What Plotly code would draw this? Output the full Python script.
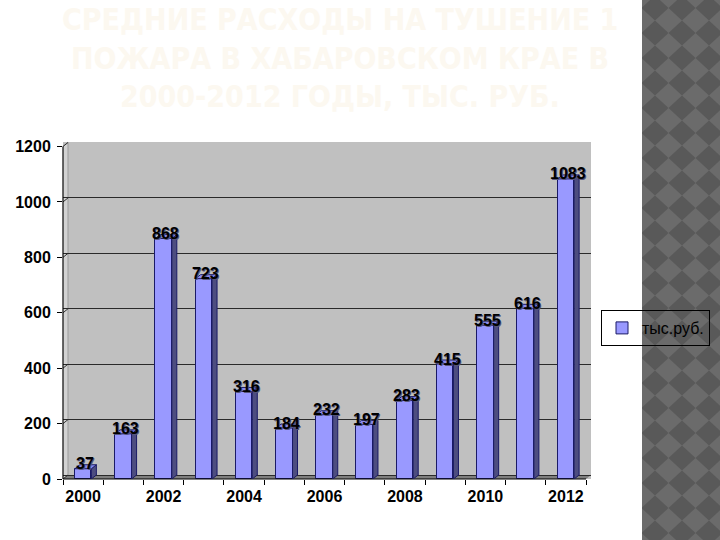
import plotly.graph_objects as go

# ---- data ----
years = [2000, 2001, 2002, 2003, 2004, 2005, 2006, 2007, 2008, 2009, 2010, 2011, 2012]
values = [37, 163, 868, 723, 316, 184, 232, 197, 283, 415, 555, 616, 1083]
series_name = "тыс.руб."
x_tick_vals = [2000, 2002, 2004, 2006, 2008, 2010, 2012]
x_tick_text = ["2000", "2002", "2004", "2006", "2008", "2010", "2012"]
y_tick_vals = [0, 200, 400, 600, 800, 1000, 1200]
title_lines = ["СРЕДНИЕ РАСХОДЫ НА ТУШЕНИЕ 1",
               "ПОЖАРА В ХАБАРОВСКОМ КРАЕ В",
               "2000-2012 ГОДЫ, ТЫС. РУБ."]

# ---- geometry (pixels of the 720x540 page) ----
W, H = 720, 540
L, R, T, B = 63, 591, 142, 479
PW, PH = R - L, B - T
DEPTH_X, DEPTH_Y = 5, 4           # 3D depth offset in px
cat_px = (PW - DEPTH_X) / len(years)
x_lo = years[0] - 0.5
x_hi = years[-1] + 0.5 + DEPTH_X / cat_px
px_per_val = (B - 146.5) / 1200.0
y_top = PH / px_per_val
dxu = DEPTH_X / cat_px
dyu = DEPTH_Y / px_per_val
bar_w = 0.41


def xp(px):
    return (px - L) / PW


def yp(py):
    return (B - py) / PH


FONT = "Liberation Sans, Arial, sans-serif"

fig = go.Figure()
fig.add_trace(go.Bar(
    x=years, y=values, width=bar_w, name=series_name,
    marker=dict(color="#9999FF", line=dict(color="#1a1a66", width=1)),
    hoverinfo="x+y",
))
# invisible trace to make the back-wall grid axis render
fig.add_trace(go.Scatter(x=[years[0]], y=[0], yaxis="y2", mode="markers",
                         marker=dict(opacity=0), showlegend=False, hoverinfo="skip"))

shapes = []

# checkered decorative strip on the right
strip_x0 = 642
shapes.append(dict(type="rect", xref="paper", yref="paper",
                   x0=xp(strip_x0), x1=xp(W + 5), y0=yp(H + 5), y1=yp(-5),
                   fillcolor="#6b6b6b", line=dict(width=0), layer="below"))


def clip_left(poly, xmin):
    out = []
    n = len(poly)
    for i in range(n):
        a, b = poly[i], poly[(i + 1) % n]
        ain, bin_ = a[0] >= xmin, b[0] >= xmin
        if ain:
            out.append(a)
        if ain != bin_:
            t = (xmin - a[0]) / (b[0] - a[0])
            out.append((xmin, a[1] + t * (b[1] - a[1])))
    return out


DW, DH = 27, 25
paths = []
for j in range(-1, 24):
    for i in range(-1, 5):
        cx = 655 + i * DW
        cy = 8 + j * DH
        poly = [(cx, cy - DH / 2), (cx + DW / 2, cy), (cx, cy + DH / 2), (cx - DW / 2, cy)]
        poly = clip_left(poly, strip_x0)
        if len(poly) < 3:
            continue
        p = "M " + " L ".join(f"{xp(a):.5f},{yp(b):.5f}" for a, b in poly) + " Z"
        paths.append(p)
shapes.append(dict(type="path", xref="paper", yref="paper", path=" ".join(paths),
                   fillcolor="#595959", line=dict(width=0), layer="below"))

# left wall
shapes.append(dict(type="path", xref="paper", yref="paper",
                   path=f"M {xp(L)},{yp(146.5)} L {xp(L+DEPTH_X)},{yp(T)} L {xp(L+DEPTH_X)},{yp(B-DEPTH_Y)} L {xp(L)},{yp(B)} Z",
                   fillcolor="#d2d2d2", line=dict(color="#9a9a9a", width=1), layer="between"))
# floor
shapes.append(dict(type="path", xref="paper", yref="paper",
                   path=f"M {xp(L)},{yp(B)} L {xp(R-DEPTH_X)},{yp(B)} L {xp(R)},{yp(B-DEPTH_Y)} L {xp(L+DEPTH_X)},{yp(B-DEPTH_Y)} Z",
                   fillcolor="#7f7f7f", line=dict(width=0), layer="between"))
# floor front edge
shapes.append(dict(type="line", xref="paper", yref="paper",
                   x0=xp(L), x1=xp(R - DEPTH_X), y0=0, y1=0,
                   line=dict(color="black", width=1), layer="above"))
# grid diagonals on the left wall
for v in y_tick_vals:
    shapes.append(dict(type="line", xref="paper", yref="y",
                       x0=0, x1=xp(L + DEPTH_X), y0=v, y1=v + dyu,
                       line=dict(color="#333333", width=1), layer="between"))
# y axis line
shapes.append(dict(type="line", xref="paper", yref="y", x0=0, x1=0,
                   y0=y_tick_vals[0], y1=y_tick_vals[-1],
                   line=dict(color="black", width=1), layer="above"))

# 3D side and top faces of bars
for yr, v in zip(years, values):
    x0 = yr + bar_w / 2
    x1 = x0 + dxu
    shapes.append(dict(type="path", xref="x", yref="y",
                       path=f"M {x0},0 L {x1},{dyu} L {x1},{v+dyu} L {x0},{v} Z",
                       fillcolor="#4d4d80", line=dict(color="#1a1a66", width=1), layer="above"))
    xl = yr - bar_w / 2
    shapes.append(dict(type="path", xref="x", yref="y",
                       path=f"M {xl},{v} L {x0},{v} L {x1},{v+dyu} L {xl+dxu},{v+dyu} Z",
                       fillcolor="#8c8cee", line=dict(color="#1a1a66", width=1), layer="above"))

annotations = []
for yr, v in zip(years, values):
    annotations.append(dict(x=yr, y=v, xref="x", yref="y", text=str(v), showarrow=False,
                            xshift=2, yshift=5, yanchor="middle", xanchor="center",
                            font=dict(family=FONT, size=16, color="black", weight="bold",
                                      shadow="1px 1px 0px #55557a")))

title_y = [20, 58, 97]
for line, py in zip(title_lines, title_y):
    annotations.append(dict(x=xp(340), y=yp(py), xref="paper", yref="paper", text=line,
                            showarrow=False, xanchor="center", yanchor="middle",
                            font=dict(family="Liberation Sans Narrow, Arial Narrow, DejaVu Sans Condensed, sans-serif",
                                      size=30, color="#FCF8F0", weight="bold")))

fig.update_layout(
    width=W, height=H, autosize=False,
    margin=dict(l=L, r=W - R, t=T, b=H - B, pad=0, autoexpand=False),
    paper_bgcolor="white", plot_bgcolor="#C0C0C0",
    showlegend=True,
    legend=dict(x=xp(601), y=yp(310), xanchor="left", yanchor="top",
                bgcolor="rgba(0,0,0,0)", bordercolor="black", borderwidth=1,
                font=dict(family=FONT, size=16, color="black"),
                itemwidth=30),
    xaxis=dict(range=[x_lo, x_hi], tickvals=x_tick_vals, ticktext=x_tick_text,
               ticks="", showgrid=False, zeroline=False, showline=False,
               tickfont=dict(family=FONT, size=16, color="black", weight="bold"),
               ticklabelstandoff=6,
               minor=dict(tick0=years[0] - 0.5, dtick=1, ticks="outside", ticklen=5,
                          tickcolor="black", showgrid=False)),
    yaxis=dict(range=[0, y_top], tickvals=y_tick_vals, ticks="outside", ticklen=5,
               tickcolor="black", showgrid=False, zeroline=False, showline=False,
               tickfont=dict(family=FONT, size=16, color="black", weight="bold"),
               ticklabelstandoff=3),
    yaxis2=dict(range=[-dyu, y_top - dyu], overlaying="y", tickvals=y_tick_vals,
                showgrid=True, gridcolor="#2a2a2a", gridwidth=1, showticklabels=False,
                ticks="", zeroline=False, showline=False),
    shapes=shapes, annotations=annotations, bargap=0,
)

fig.write_html("out.html")
